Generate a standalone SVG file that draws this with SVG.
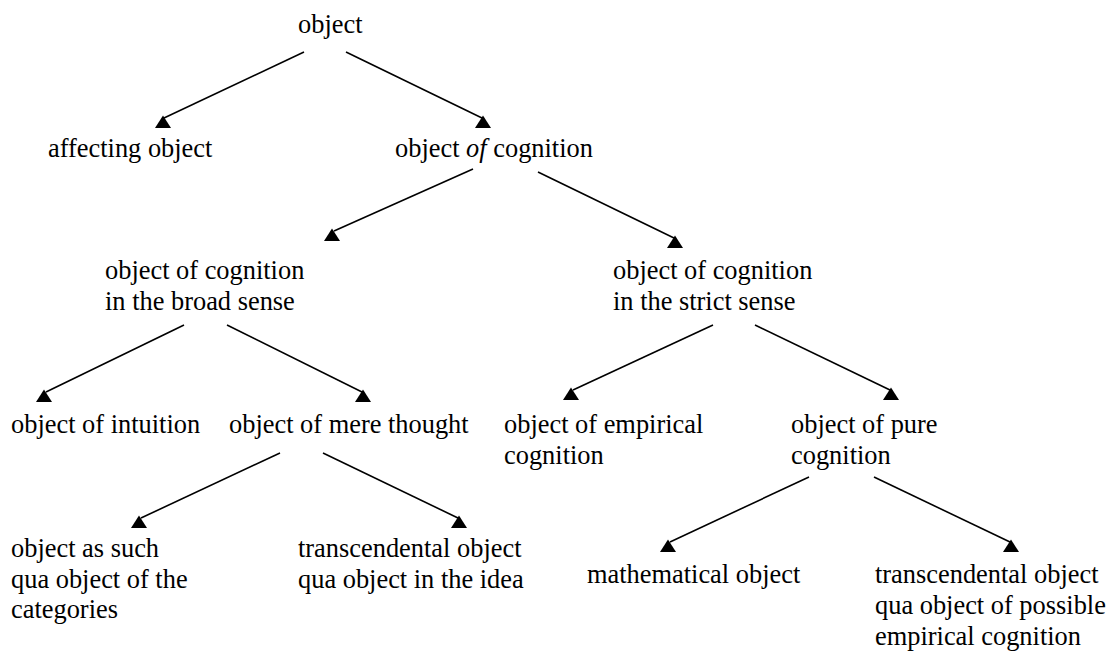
<svg xmlns="http://www.w3.org/2000/svg" xmlns:xlink="http://www.w3.org/1999/xlink" width="1111" height="652" viewBox="0 0 1111 652">
<style>
text{font-family:"Liberation Serif","Times New Roman",serif;font-size:26.4px;fill:#000}
.c line{stroke:#000;stroke-width:1.6;fill:none}
.c use{fill:#000}
.it{font-style:italic}
</style>
<defs>
<path id="head" d="M0,0 L8,12.5 L-8,12.5 Z"/>
</defs>
<rect width="1111" height="652" fill="#fff"/>
<g id="connectors" class="c">
<line x1="304" y1="52" x2="164" y2="118"/><use xlink:href="#head" x="163" y="115.5"/>
<line x1="346" y1="52" x2="482" y2="118"/><use xlink:href="#head" x="483" y="115.5"/>
<line x1="473" y1="169" x2="334" y2="231"/><use xlink:href="#head" x="332" y="228.5"/>
<line x1="538" y1="172" x2="674" y2="238"/><use xlink:href="#head" x="675" y="235.5"/>
<line x1="184" y1="325" x2="46" y2="392"/><use xlink:href="#head" x="44" y="389.5"/>
<line x1="227" y1="325" x2="362" y2="392"/><use xlink:href="#head" x="363" y="389.5"/>
<line x1="713" y1="325" x2="573" y2="390"/><use xlink:href="#head" x="571" y="387.5"/>
<line x1="755" y1="325" x2="890" y2="390"/><use xlink:href="#head" x="891" y="387.5"/>
<line x1="280" y1="453" x2="141" y2="518"/><use xlink:href="#head" x="139" y="515.5"/>
<line x1="323" y1="453" x2="458" y2="518"/><use xlink:href="#head" x="459" y="515.5"/>
<line x1="809" y1="477" x2="670" y2="542"/><use xlink:href="#head" x="668" y="539.5"/>
<line x1="874" y1="477" x2="1010" y2="542"/><use xlink:href="#head" x="1011" y="539.5"/>
</g>
<g id="n-object"><text x="298" y="33">object</text></g>
<g id="n-affecting"><text x="48" y="157">affecting object</text></g>
<g id="n-cognition"><text x="395" y="157">object <tspan class="it">of</tspan> cognition</text></g>
<g id="n-broad"><text x="105" y="279">object of cognition</text><text x="105" y="310">in the broad sense</text></g>
<g id="n-strict"><text x="613" y="279">object of cognition</text><text x="613" y="310">in the strict sense</text></g>
<g id="n-intuition"><text x="11" y="433">object of intuition</text></g>
<g id="n-mere"><text x="229" y="433">object of mere thought</text></g>
<g id="n-empirical"><text x="504" y="433">object of empirical</text><text x="504" y="464">cognition</text></g>
<g id="n-pure"><text x="791" y="433">object of pure</text><text x="791" y="464">cognition</text></g>
<g id="n-such"><text x="11" y="557">object as such</text><text x="11" y="588">qua object of the</text><text x="11" y="618">categories</text></g>
<g id="n-idea"><text x="298" y="557">transcendental object</text><text x="298" y="588">qua object in the idea</text></g>
<g id="n-math"><text x="587" y="583">mathematical object</text></g>
<g id="n-possible"><text x="875" y="583">transcendental object</text><text x="875" y="614">qua object of possible</text><text x="875" y="645">empirical cognition</text></g>
</svg>
